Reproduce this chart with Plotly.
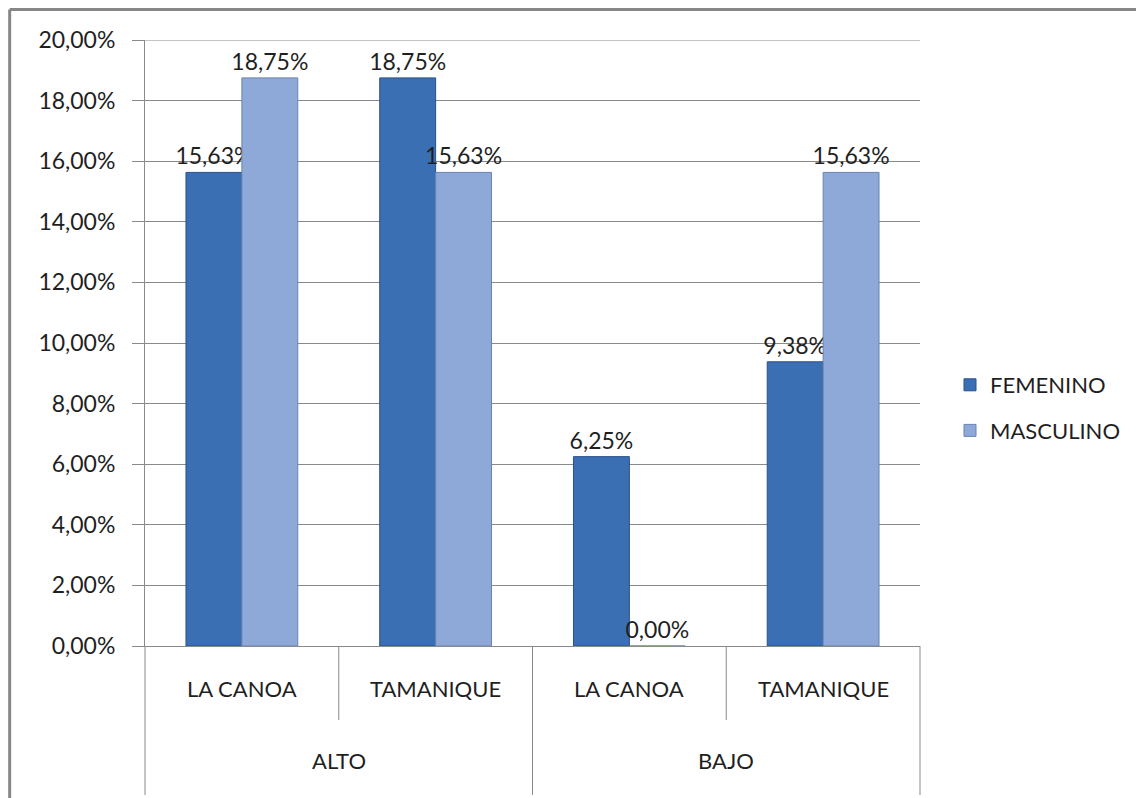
import plotly.graph_objects as go

# Data: share of students by level, school and sex
niveles = ["ALTO", "ALTO", "BAJO", "BAJO"]
centros = ["LA CANOA", "TAMANIQUE", "LA CANOA", "TAMANIQUE"]
femenino = [0.1563, 0.1875, 0.0625, 0.0938]
masculino = [0.1875, 0.1563, 0.0000, 0.1563]
y_ticks = [0.00, 0.02, 0.04, 0.06, 0.08, 0.10, 0.12, 0.14, 0.16, 0.18, 0.20]

W, H = 1136, 798
L, R, T, B = 145, 215, 40, 152
PW, PH = W - L - R, H - T - B

FONT = "Lato"
TXT = "#1f1f1f"
GRID = "#8a8a8a"
NUM_SIZE = 23
LBL_SIZE = 22


def px(xp):
    return (xp - L) / PW


def py(yp):
    return (H - B - yp) / PH


def fmt(v):
    return f"{v * 100:.2f}".replace(".", ",") + "%"


cats = [f"{n} {c}" for n, c in zip(niveles, centros)]

fig = go.Figure()
fig.add_bar(
    x=cats, y=femenino, name="FEMENINO",
    marker=dict(color="#3a6fb3", line=dict(color="#2a5188", width=1)),
    text=[fmt(v) for v in femenino], textposition="outside", constraintext="none",
    textfont=dict(family=FONT, size=NUM_SIZE, color=TXT),
    cliponaxis=False, legendgroup="f",
)
fig.add_bar(
    x=cats, y=masculino, name="MASCULINO",
    marker=dict(color="#8ea8d8", line=dict(color="#6b83b3", width=1)),
    text=[fmt(v) for v in masculino], textposition="outside", constraintext="none",
    textfont=dict(family=FONT, size=NUM_SIZE, color=TXT),
    cliponaxis=False, legendgroup="m",
)

shapes = []
annotations = []
n = len(cats)

# top gridline at the end of the value range
shapes.append(dict(type="line", xref="paper", yref="y", x0=0, x1=1,
                   y0=y_ticks[-1], y1=y_ticks[-1], line=dict(color=GRID, width=1),
                   layer="below"))

# separators of the two-level category axis
for k in range(n + 1):
    bottom = 795 if k % 2 == 0 else 720
    shapes.append(dict(type="line", xref="paper", yref="paper",
                       x0=k / n, x1=k / n, y0=0, y1=py(bottom),
                       line=dict(color=GRID, width=1)))

# sub-category labels
for i, c in enumerate(centros):
    annotations.append(dict(xref="paper", yref="paper", x=(i + 0.5) / n, y=py(688),
                            text=c, showarrow=False, xanchor="center", yanchor="middle",
                            font=dict(family=FONT, size=LBL_SIZE, color=TXT)))

# group labels
groups = []
for i, g in enumerate(niveles):
    if not groups or groups[-1][0] != g:
        groups.append([g, i, i])
    else:
        groups[-1][2] = i
for g, i0, i1 in groups:
    annotations.append(dict(xref="paper", yref="paper", x=(i0 + i1 + 1) / (2 * n), y=py(760),
                            text=g, showarrow=False, xanchor="center", yanchor="middle",
                            font=dict(family=FONT, size=LBL_SIZE, color=TXT)))

# outer chart border (top and left edges)
shapes.append(dict(type="line", xref="paper", yref="paper",
                   x0=px(9.5), x1=px(W + 5), y0=py(9.5), y1=py(9.5),
                   line=dict(color="#878787", width=3)))
shapes.append(dict(type="line", xref="paper", yref="paper",
                   x0=px(9.5), x1=px(9.5), y0=py(9.5), y1=py(H + 5),
                   line=dict(color="#878787", width=3)))

fig.update_layout(
    width=W, height=H,
    margin=dict(l=L, r=R, t=T, b=B),
    paper_bgcolor="white", plot_bgcolor="white",
    separators=",.",
    barmode="group", bargap=0.423, bargroupgap=0,
    font=dict(family=FONT, size=LBL_SIZE, color=TXT),
    shapes=shapes, annotations=annotations,
    legend=dict(x=px(950), y=py(408), xanchor="left", yanchor="middle",
                traceorder="grouped", tracegroupgap=14,
                font=dict(family=FONT, size=LBL_SIZE, color=TXT),
                bgcolor="rgba(0,0,0,0)"),
    xaxis=dict(showticklabels=False, ticks="", showgrid=False, zeroline=False,
               showline=True, linecolor=GRID, linewidth=1),
    yaxis=dict(range=[0, 0.2], tickvals=y_ticks, tickformat=".2%",
               ticks="outside", ticklen=12, tickcolor=GRID, ticklabelstandoff=12,
               showgrid=True, gridcolor=GRID, gridwidth=1,
               showline=True, linecolor=GRID, linewidth=1, zeroline=False,
               tickfont=dict(family=FONT, size=NUM_SIZE, color=TXT)),
)

fig.write_html("out.html")
